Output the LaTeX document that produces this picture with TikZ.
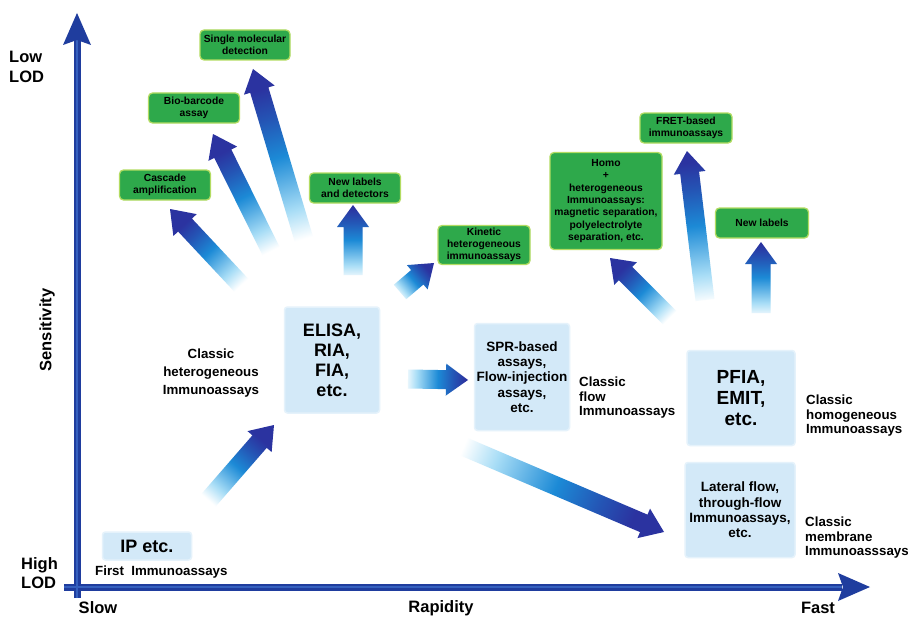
\documentclass[tikz,border=0pt]{standalone}
\usepackage{fontspec}
\setmainfont{Liberation Sans}
\usetikzlibrary{calc}
\definecolor{axisblue}{HTML}{1F3D9E}
\definecolor{axisin}{HTML}{3560BE}
\definecolor{gfill}{HTML}{2EA94B}
\definecolor{gborder}{HTML}{B3DC62}
\definecolor{bfill}{HTML}{D3E9F8}
\definecolor{acyan}{HTML}{A8DDF6}
\definecolor{amid}{HTML}{1C8AD6}
\definecolor{ablue}{HTML}{2455B5}
\definecolor{adark}{HTML}{2B33A0}
\pgfdeclareverticalshading{garr}{100bp}{color(0bp)=(white); color(22bp)=(white); color(32bp)=(acyan); color(50bp)=(amid); color(63bp)=(ablue); color(73bp)=(adark); color(100bp)=(adark)}
\newcommand{\fsz}[2]{\fontsize{#1}{#2}\selectfont}
\newcommand{\garrow}[2]{%
  \coordinate (gn) at ($(#2)!22pt!(#1)$);
  \path let \p1=($(#2)-(#1)$) in \pgfextra{\pgfmathparse{atan2(\y1,\x1)-90}\xdef\gang{\pgfmathresult}};
  \shade[shading=garr, shading angle=\gang]
    ($(#1)!9.5pt!90:(#2)$) -- ($(gn)!9.5pt!-90:(#1)$) -- ($(gn)!16pt!-90:(#1)$) -- (#2)
    -- ($(gn)!16pt!90:(#1)$) -- ($(gn)!9.5pt!90:(#1)$) -- ($(#1)!9.5pt!-90:(#2)$) -- cycle;
}
\tikzset{
  greenbox/.style={draw=gborder, line width=1.3pt, fill=gfill, rounded corners=4pt, align=center, inner sep=1pt, font=\bfseries\fsz{10.3}{12.3}, text=black},
  bluebox/.style={fill=bfill, draw=bfill!60!white, line width=1.5pt, rounded corners=3pt, align=center, inner sep=2pt, text=black},
  caption/.style={font=\bfseries\fsz{13.3}{14.5}, align=left, inner sep=0pt},
  axislabel/.style={font=\bfseries\fsz{16.5}{19.5}, inner sep=0pt, align=left},
}
\begin{document}
\begin{tikzpicture}[x=1pt,y=-1pt]
\useasboundingbox (0,0) rectangle (908,618);
\fill[white] (0,0) rectangle (908,618);

% axes
\coordinate (vb) at (77,598);
\coordinate (vt) at (77,40);
\coordinate (vtip) at (77,13);
\coordinate (hl) at (64,587);
\coordinate (hr) at (842,587);
\coordinate (htip) at (870,587);
\draw[axisblue, line width=7pt] (vb) -- (vt);
\draw[axisblue, line width=7pt] (hl) -- (hr);
\draw[axisin, line width=1.5pt] (vb) -- (vt);
\draw[axisin, line width=1.5pt] (hl) -- (hr);
\fill[axisblue] (vtip) -- ($(vtip)+(14,32)$) -- ($(vtip)+(0,27)$) -- ($(vtip)+(-14,32)$) -- cycle;
\fill[axisblue] (htip) -- ($(htip)+(-32,-14)$) -- ($(htip)+(-27,0)$) -- ($(htip)+(-32,14)$) -- cycle;

% axis labels
\node[axislabel, anchor=west] (low) at (9,67) {Low\\LOD};
\node[axislabel, anchor=west] (high) at (21,573) {High\\LOD};
\node[axislabel] (slow) at (98,608) {Slow};
\node[axislabel] (rap) at (441,608) {Rapidity};
\node[axislabel] (fast) at (818,608) {Fast};
\node[axislabel, rotate=90] (sens) at (47,330) {Sensitivity};

% gradient arrows
\coordinate (t1) at (243,287);  \coordinate (h1) at (170,209);
\coordinate (t2) at (273,255);  \coordinate (h2) at (213,134);
\coordinate (t3) at (305,243);  \coordinate (h3) at (253,69);
\coordinate (t4) at (353,275);  \coordinate (h4) at (353,205);
\coordinate (t5) at (400,292);  \coordinate (h5) at (434,263);
\coordinate (t6) at (408,379);  \coordinate (h6) at (468,380);
\coordinate (t7) at (207,502);  \coordinate (h7) at (274,425);
\coordinate (t8) at (453,442);  \coordinate (h8) at (664,532);
\coordinate (t9) at (670,318);  \coordinate (h9) at (610,258);
\coordinate (t10) at (705,300); \coordinate (h10) at (687,151);
\coordinate (t11) at (761,313); \coordinate (h11) at (761,242);
\garrow{t1}{h1}
\garrow{t2}{h2}
\garrow{t3}{h3}
\garrow{t4}{h4}
\garrow{t5}{h5}
\garrow{t6}{h6}
\garrow{t7}{h7}
\garrow{t8}{h8}
\garrow{t9}{h9}
\garrow{t10}{h10}
\garrow{t11}{h11}

% green boxes
\node[greenbox, minimum width=90pt, minimum height=30pt] (sm) at (245,45) {Single molecular\\detection};
\node[greenbox, minimum width=91pt, minimum height=30pt] (bb) at (194,108) {Bio-barcode\\assay};
\node[greenbox, minimum width=91pt, minimum height=30pt] (ca) at (165,185) {Cascade\\amplification};
\node[greenbox, minimum width=91pt, minimum height=30pt] (nld) at (355,188) {New labels\\and detectors};
\node[greenbox, minimum width=92pt, minimum height=39pt] (kin) at (484,245) {Kinetic\\heterogeneous\\immunoassays};
\node[greenbox, minimum width=112pt, minimum height=97pt] (homo) at (606,201) {Homo\\+\\heterogeneous\\Immunoassays:\\magnetic separation,\\polyelectrolyte\\separation, etc.};
\node[greenbox, minimum width=92pt, minimum height=30pt] (fret) at (686,128) {FRET-based\\immunoassays};
\node[greenbox, minimum width=93pt, minimum height=30pt] (nl) at (762,223) {New labels};

% blue boxes
\node[bluebox, minimum width=95pt, minimum height=106pt, font=\bfseries\fsz{18}{20}] (elisa) at (332,360) {ELISA,\\RIA,\\FIA,\\etc.};
\node[bluebox, minimum width=95pt, minimum height=107pt, font=\bfseries\fsz{13.5}{15.3}] (spr) at (522,377) {SPR-based\\assays,\\Flow-injection\\assays,\\etc.};
\node[bluebox, minimum width=108pt, minimum height=95pt, font=\bfseries\fsz{19}{21}] (pfia) at (741,398) {PFIA,\\EMIT,\\etc.};
\node[bluebox, minimum width=110pt, minimum height=95pt, font=\bfseries\fsz{13.5}{15.3}] (lat) at (740,510) {Lateral flow,\\through-flow\\Immunoassays,\\etc.};
\node[bluebox, minimum width=89pt, minimum height=28pt, font=\bfseries\fsz{18}{20}] (ip) at (147,546) {IP etc.};

% captions
\node[caption, align=center, font=\bfseries\fsz{13.3}{18}] (chet) at (211,373) {Classic\\heterogeneous\\Immunoassays};
\node[caption, anchor=west] (cflow) at (579,398) {Classic\\flow\\Immunoassays};
\node[caption, anchor=west] (chom) at (806,416) {Classic\\homogeneous\\Immunoassays};
\node[caption, anchor=west] (cmem) at (805,538) {Classic\\membrane\\Immunoasssays};
\node[caption, anchor=west] (first) at (95,572) {First\ \ Immunoassays};
\end{tikzpicture}
\end{document}
